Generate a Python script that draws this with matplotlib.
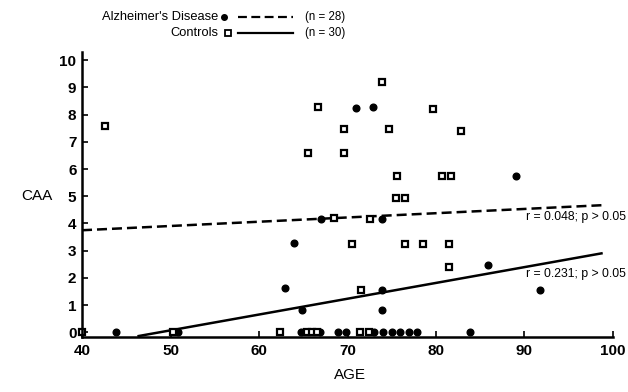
import matplotlib.pyplot as plt
from matplotlib.lines import Line2D

plt.rcParams['font.family'] = ['Liberation Sans', 'DejaVu Sans']

# Alzheimer's disease group (filled dots)
ad_age = [43.8, 50.8, 62.9, 63.9, 64.9, 64.7, 66.9, 67.0, 68.9, 69.8,
          71.0, 72.9, 73.0, 73.9, 73.9, 73.9, 74.0, 75.0, 75.9, 76.9,
          77.9, 83.8, 85.9, 89.0, 91.8]
ad_caa = [0.0, 0.0, 1.63, 3.28, 0.81, 0.0, 0.0, 4.15, 0.0, 0.0,
          8.25, 8.28, 0.0, 4.15, 1.57, 0.83, 0.0, 0.0, 0.0, 0.0,
          0.0, 0.0, 2.46, 5.74, 1.54]

# controls (open squares)
ctl_age = [40.0, 42.6, 50.3, 62.4, 65.4, 66.0, 66.6, 65.5, 66.7, 68.5,
           69.6, 69.6, 70.5, 71.4, 72.4, 71.5, 72.5, 73.9, 74.7, 75.6,
           75.5, 76.5, 76.5, 78.5, 79.7, 80.7, 81.7, 81.5, 81.5, 82.8]
ctl_caa = [0.0, 7.6, 0.0, 0.0, 0.0, 0.0, 0.0, 6.6, 8.28, 4.2,
           7.46, 6.6, 3.26, 0.0, 0.0, 1.57, 4.15, 9.2, 7.46, 5.74,
           4.95, 4.95, 3.26, 3.26, 8.2, 5.74, 5.74, 3.26, 2.4, 7.4]

# regression lines (end points)
ad_fit_x = [40.0, 98.7]
ad_fit_y = [3.75, 4.67]
ctl_fit_x = [46.4, 98.7]
ctl_fit_y = [-0.14, 2.9]

fig = plt.figure(figsize=(6.28, 3.92), dpi=100)
ax = fig.add_axes([0.1306, 0.140, 0.8455, 0.727])

ax.plot(ad_fit_x, ad_fit_y, color='black', lw=1.8, ls=(0, (4, 2)))
ax.plot(ctl_fit_x, ctl_fit_y, color='black', lw=1.8)

ax.plot(ad_age, ad_caa, 'o', color='black', ms=4.8, clip_on=False)
ax.plot(ctl_age, ctl_caa, 's', mfc='white', mec='black', mew=1.6, ms=4.8, clip_on=False)

ax.text(90.2, 4.25, 'r = 0.048; p > 0.05', fontsize=8.8, va='center', ha='left')
ax.text(90.2, 2.15, 'r = 0.231; p > 0.05', fontsize=8.8, va='center', ha='left')

ax.set_xlim(40, 100)
ax.set_ylim(-0.18, 10.3)
ax.set_xticks([40, 50, 60, 70, 80, 90, 100])
ax.set_yticks(range(0, 11))
ax.tick_params(direction='in', length=4, width=1.2, labelsize=11)
ax.tick_params(axis='x', pad=5)
ax.tick_params(axis='y', pad=4)
for t in ax.get_xticklabels() + ax.get_yticklabels():
    t.set_fontweight('bold')

ax.spines['top'].set_visible(False)
ax.spines['right'].set_visible(False)
ax.spines['left'].set_linewidth(1.8)
ax.spines['bottom'].set_linewidth(1.8)

fig.text(0.034, 0.50, 'CAA', fontsize=11, va='center', ha='left')
fig.text(0.557, 0.043, 'AGE', fontsize=11, va='center', ha='center')

# legend drawn by hand as in the original
fig.text(0.347, 0.956, "Alzheimer's Disease", fontsize=9.3, ha='right', va='center')
fig.text(0.347, 0.915, "Controls", fontsize=9.3, ha='right', va='center')
fig.add_artist(Line2D([0.357], [0.956], marker='o', color='black', ms=4, ls='none'))
fig.add_artist(Line2D([0.363], [0.915], marker='s', mfc='white', mec='black', mew=1.3, ms=4, ls='none'))
fig.add_artist(Line2D([0.379, 0.467], [0.956, 0.956], color='black', lw=1.6, ls=(0, (4, 2))))
fig.add_artist(Line2D([0.379, 0.467], [0.915, 0.915], color='black', lw=1.6))
fig.text(0.486, 0.956, "(n = 28)", fontsize=8.3, ha='left', va='center')
fig.text(0.486, 0.915, "(n = 30)", fontsize=8.3, ha='left', va='center')

fig.savefig('out.png', dpi=100)
